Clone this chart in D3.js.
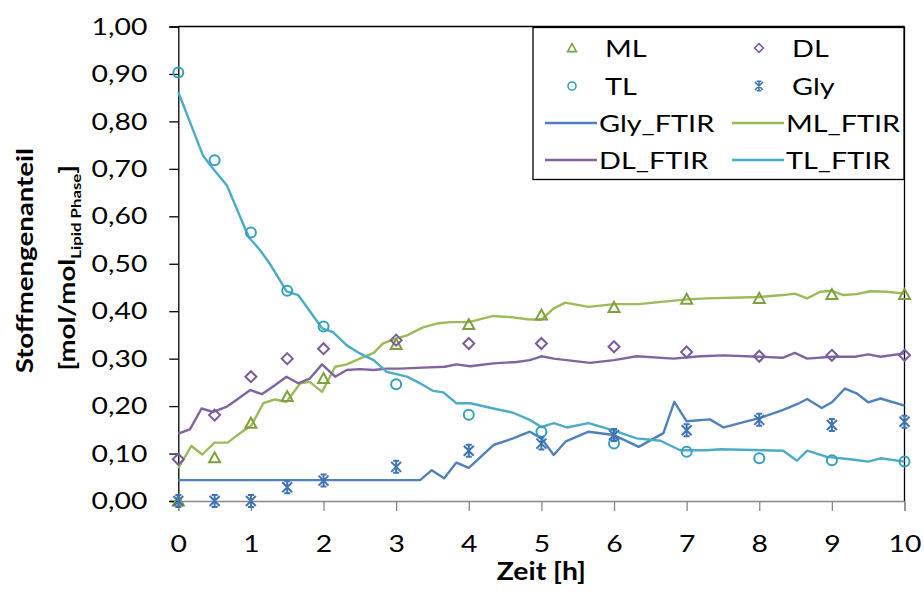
<!DOCTYPE html>
<html>
<head>
<meta charset="utf-8">
<script src="https://cdn.jsdelivr.net/npm/d3@7"></script>
<style>
  html, body { margin: 0; padding: 0; background: #fff; }
  svg { display: block; font-family: Lato, "Noto Sans", sans-serif; }
</style>
</head>
<body>
<svg id="chart" width="924" height="594"></svg>
<script>
// Sampled measurements (markers)
const timeMeas = [0, 0.5, 1, 1.5, 2, 3, 4, 5, 6, 7, 8, 9, 10];
const ML  = [0.000, 0.091, 0.164, 0.220, 0.258, 0.330, 0.372, 0.392, 0.408, 0.425, 0.427, 0.435, 0.435];
const DL  = [0.088, 0.181, 0.262, 0.300, 0.321, 0.339, 0.332, 0.332, 0.325, 0.314, 0.305, 0.307, 0.307];
const TL  = [0.903, 0.718, 0.566, 0.443, 0.368, 0.246, 0.182, 0.146, 0.121, 0.104, 0.090, 0.086, 0.083];
const Gly = [0.000, 0.000, 0.000, 0.029, 0.043, 0.072, 0.106, 0.121, 0.139, 0.149, 0.171, 0.160, 0.167];

// FTIR online estimates (lines)
const timeGlyFTIR = [0, 3.33, 3.49, 3.66, 3.83, 4.0, 4.34, 4.61, 4.84, 5.0, 5.17, 5.33, 5.65, 6.0, 6.34, 6.68, 6.83, 7.0, 7.32, 7.51, 8.01, 8.33, 8.52, 8.66, 8.86, 9.0, 9.18, 9.34, 9.5, 9.67, 10];
const Gly_FTIR    = [0.044, 0.044, 0.065, 0.048, 0.081, 0.070, 0.118, 0.132, 0.146, 0.132, 0.097, 0.125, 0.146, 0.139, 0.114, 0.143, 0.209, 0.168, 0.172, 0.155, 0.175, 0.192, 0.204, 0.215, 0.196, 0.208, 0.237, 0.227, 0.208, 0.216, 0.201];

const timeMLFTIR = [0, 0.18, 0.33, 0.5, 0.68, 0.85, 1.01, 1.17, 1.33, 1.49, 1.68, 1.81, 1.98, 2.16, 2.32, 2.5, 2.69, 2.82, 2.96, 3.15, 3.37, 3.56, 3.74, 4.0, 4.34, 4.61, 4.8, 5.0, 5.17, 5.33, 5.65, 6.0, 6.34, 7.0, 7.28, 8.01, 8.33, 8.49, 8.66, 8.84, 9.0, 9.16, 9.34, 9.53, 9.76, 10];
const ML_FTIR    = [0.069, 0.116, 0.098, 0.123, 0.123, 0.143, 0.160, 0.206, 0.214, 0.209, 0.248, 0.251, 0.230, 0.283, 0.288, 0.300, 0.312, 0.332, 0.340, 0.349, 0.366, 0.374, 0.377, 0.377, 0.390, 0.387, 0.383, 0.382, 0.406, 0.418, 0.409, 0.415, 0.415, 0.425, 0.427, 0.430, 0.434, 0.437, 0.427, 0.441, 0.443, 0.434, 0.436, 0.442, 0.441, 0.437];

const timeDLFTIR = [0, 0.16, 0.32, 0.48, 0.67, 0.8, 0.99, 1.15, 1.33, 1.49, 1.65, 1.81, 1.98, 2.16, 2.32, 2.5, 2.69, 2.87, 3.05, 3.37, 3.67, 3.83, 4.02, 4.34, 4.66, 4.84, 5.0, 5.17, 5.67, 6.0, 6.31, 6.82, 7.19, 7.51, 8.01, 8.33, 8.49, 8.66, 9.0, 9.32, 9.5, 9.67, 10];
const DL_FTIR    = [0.142, 0.151, 0.195, 0.188, 0.199, 0.213, 0.234, 0.225, 0.244, 0.262, 0.248, 0.258, 0.288, 0.262, 0.276, 0.278, 0.276, 0.279, 0.279, 0.281, 0.283, 0.288, 0.284, 0.290, 0.293, 0.297, 0.305, 0.300, 0.291, 0.297, 0.305, 0.300, 0.305, 0.307, 0.304, 0.302, 0.312, 0.300, 0.304, 0.304, 0.309, 0.304, 0.311];

const timeTLFTIR = [0, 0.34, 0.46, 0.67, 0.97, 1.13, 1.26, 1.4, 1.49, 1.65, 1.77, 1.98, 2.13, 2.32, 2.5, 2.69, 2.87, 3.15, 3.33, 3.51, 3.65, 3.83, 4.02, 4.34, 4.61, 4.84, 5.0, 5.17, 5.35, 5.65, 5.99, 6.31, 6.64, 6.91, 7.28, 7.46, 8.33, 8.52, 8.66, 8.93, 9.25, 9.5, 9.67, 10];
const TL_FTIR    = [0.862, 0.728, 0.704, 0.665, 0.556, 0.528, 0.500, 0.465, 0.442, 0.434, 0.409, 0.364, 0.356, 0.328, 0.311, 0.297, 0.272, 0.262, 0.248, 0.232, 0.229, 0.206, 0.206, 0.195, 0.186, 0.171, 0.156, 0.164, 0.155, 0.164, 0.149, 0.132, 0.127, 0.107, 0.107, 0.109, 0.106, 0.085, 0.106, 0.093, 0.088, 0.083, 0.090, 0.083];

const xTicks = [0, 1, 2, 3, 4, 5, 6, 7, 8, 9, 10];
const yTicks = [0, 0.1, 0.2, 0.3, 0.4, 0.5, 0.6, 0.7, 0.8, 0.9, 1.0];

const colors = {
  Gly: "#4F81BD", ML: "#9BBB59", DL: "#8064A2", TL: "#4BACC6",
  GlyM: "#3F73B3", MLM: "#7FA040", DLM: "#7A5C9E", TLM: "#34A0BC"
};

const svg = d3.select("#chart");
const plotL = 178.3, plotR = 904.5, plotT = 26.5, plotB = 501;
const WIDEN = 1.18; // labels use a slightly wider setting than the font's natural width

const x = d3.scaleLinear().domain([0, 10]).range([plotL, plotR]);
const y = d3.scaleLinear().domain([0, 1]).range([plotB, plotT]);
const fmt = d => d3.format(".2f")(d).replace(".", ",");

// Stretch a text (or tspan) horizontally along its writing direction
function widen(sel, k = WIDEN) {
  sel.each(function () {
    const len = this.getComputedTextLength();
    d3.select(this).attr("textLength", len * k).attr("lengthAdjust", "spacingAndGlyphs");
  });
}

// Plot frame: top and right edges
svg.append("line").attr("x1", plotL).attr("x2", plotR).attr("y1", plotT).attr("y2", plotT)
  .attr("stroke", "#000").attr("stroke-width", 1.3);
svg.append("line").attr("x1", plotR).attr("x2", plotR).attr("y1", plotT).attr("y2", plotB)
  .attr("stroke", "#000").attr("stroke-width", 1.3);

// X axis
const gx = svg.append("g").attr("transform", `translate(0,${plotB})`)
  .call(d3.axisBottom(x).tickValues(xTicks).tickSize(10).tickPadding(24).tickFormat(d3.format("d")));
gx.select(".domain").attr("stroke", "#888").attr("stroke-width", 1.3);
gx.selectAll(".tick line").attr("stroke", "#888").attr("stroke-width", 1.3);
gx.selectAll(".tick text").attr("font-size", 24).attr("fill", "#000").attr("font-family", "Lato");
widen(gx.selectAll(".tick text"));

// Y axis
const gy = svg.append("g").attr("transform", `translate(${plotL},0)`)
  .call(d3.axisLeft(y).tickValues(yTicks).tickSize(9).tickPadding(22).tickFormat(fmt));
gy.select(".domain").attr("stroke", "#000").attr("stroke-width", 1.3);
gy.selectAll(".tick line").attr("stroke", "#000").attr("stroke-width", 1.3);
gy.selectAll(".tick text").attr("font-size", 24).attr("fill", "#000").attr("font-family", "Lato");
widen(gy.selectAll(".tick text"));

// Axis titles
const xt = svg.append("text").attr("x", (plotL + plotR) / 2).attr("y", 580)
  .attr("text-anchor", "middle").attr("font-size", 24).attr("font-weight", "bold")
  .text("Zeit [h]");
widen(xt);

const yt = svg.append("text").attr("transform", `translate(33,${(plotT + plotB) / 2 - 3}) rotate(-90)`)
  .attr("text-anchor", "middle").attr("font-size", 23).attr("font-weight", "bold")
  .text("Stoffmengenanteil");
widen(yt, 1.2);

const yt2 = svg.append("text").attr("transform", `translate(75,${(plotT + plotB) / 2 + 4}) rotate(-90)`)
  .attr("text-anchor", "middle").attr("font-size", 23).attr("font-weight", "bold");
yt2.append("tspan").attr("class", "w").text("[mol/mol");
yt2.append("tspan").attr("class", "w").attr("font-size", 14).attr("dy", 6).text("Lipid Phase");
yt2.append("tspan").attr("class", "w").attr("dy", -6).text("]");
widen(yt2.selectAll("tspan.w"), 1.2);

// FTIR lines
const line = d3.line().x(d => x(d[0])).y(d => y(d[1]));
const lineSeries = [
  { t: timeGlyFTIR, v: Gly_FTIR, c: colors.Gly },
  { t: timeMLFTIR,  v: ML_FTIR,  c: colors.ML },
  { t: timeDLFTIR,  v: DL_FTIR,  c: colors.DL },
  { t: timeTLFTIR,  v: TL_FTIR,  c: colors.TL }
];
lineSeries.forEach(s => {
  svg.append("path").datum(s.t.map((t, i) => [t, s.v[i]]))
    .attr("d", line).attr("fill", "none").attr("stroke", s.c)
    .attr("stroke-width", 2.4).attr("stroke-linejoin", "round");
});

// Marker shapes
function marker(g, kind, color) {
  const sw = 2;
  if (kind === "tri") {
    g.append("path").attr("d", "M0,-5.5 L5.5,4.5 L-5.5,4.5 Z")
      .attr("fill", "none").attr("stroke", color).attr("stroke-width", sw);
  } else if (kind === "dia") {
    g.append("path").attr("d", "M0,-5.5 L5.5,0 L0,5.5 L-5.5,0 Z")
      .attr("fill", "none").attr("stroke", color).attr("stroke-width", sw);
  } else if (kind === "circ") {
    g.append("circle").attr("r", 5)
      .attr("fill", "none").attr("stroke", color).attr("stroke-width", sw);
  } else if (kind === "star") {
    g.append("path").attr("d", "M-5,-5 L5,5 M5,-5 L-5,5 M0,-6 L0,6 M-3,-6 L3,-6 M-3,6 L3,6")
      .attr("fill", "none").attr("stroke", color).attr("stroke-width", sw);
  }
}

const markerSeries = [
  { v: ML,  k: "tri",  c: colors.MLM },
  { v: DL,  k: "dia",  c: colors.DLM },
  { v: TL,  k: "circ", c: colors.TLM },
  { v: Gly, k: "star", c: colors.GlyM }
];
markerSeries.forEach(s => {
  s.v.forEach((v, i) => {
    const g = svg.append("g").attr("transform", `translate(${x(timeMeas[i])},${y(v)})`);
    marker(g, s.k, s.c);
  });
});

// Legend
const lg = svg.append("g");
lg.append("rect").attr("x", 533).attr("y", 27.5).attr("width", 371).attr("height", 152)
  .attr("fill", "#fff").attr("stroke", "#000").attr("stroke-width", 1.3);
const legendItems = [
  { label: "ML",        type: "tri",  c: colors.MLM, col: 0, row: 0 },
  { label: "DL",        type: "dia",  c: colors.DLM, col: 1, row: 0 },
  { label: "TL",        type: "circ", c: colors.TLM, col: 0, row: 1 },
  { label: "Gly",       type: "star", c: colors.GlyM, col: 1, row: 1 },
  { label: "Gly_FTIR",  type: "line", c: colors.Gly, col: 0, row: 2 },
  { label: "ML_FTIR",   type: "line", c: colors.ML,  col: 1, row: 2 },
  { label: "DL_FTIR",   type: "line", c: colors.DL,  col: 0, row: 3 },
  { label: "TL_FTIR",   type: "line", c: colors.TL,  col: 1, row: 3 }
];
const colX = [545, 732], rowY = [48, 86, 123, 160];
legendItems.forEach(d => {
  const x0 = colX[d.col], yy = rowY[d.row];
  if (d.type === "line") {
    lg.append("line").attr("x1", x0).attr("x2", x0 + 52).attr("y1", yy).attr("y2", yy)
      .attr("stroke", d.c).attr("stroke-width", 2.4);
  } else {
    const g = lg.append("g").attr("transform", `translate(${x0 + 27},${yy}) scale(0.8)`);
    marker(g, d.type, d.c);
  }
  const t = lg.append("text").attr("x", x0 + (d.type === "line" ? 54 : 60)).attr("y", yy)
    .attr("dy", "0.36em").attr("font-size", 24).attr("fill", "#000").text(d.label);
  widen(t, 1.2);
});
</script>
</body>
</html>
